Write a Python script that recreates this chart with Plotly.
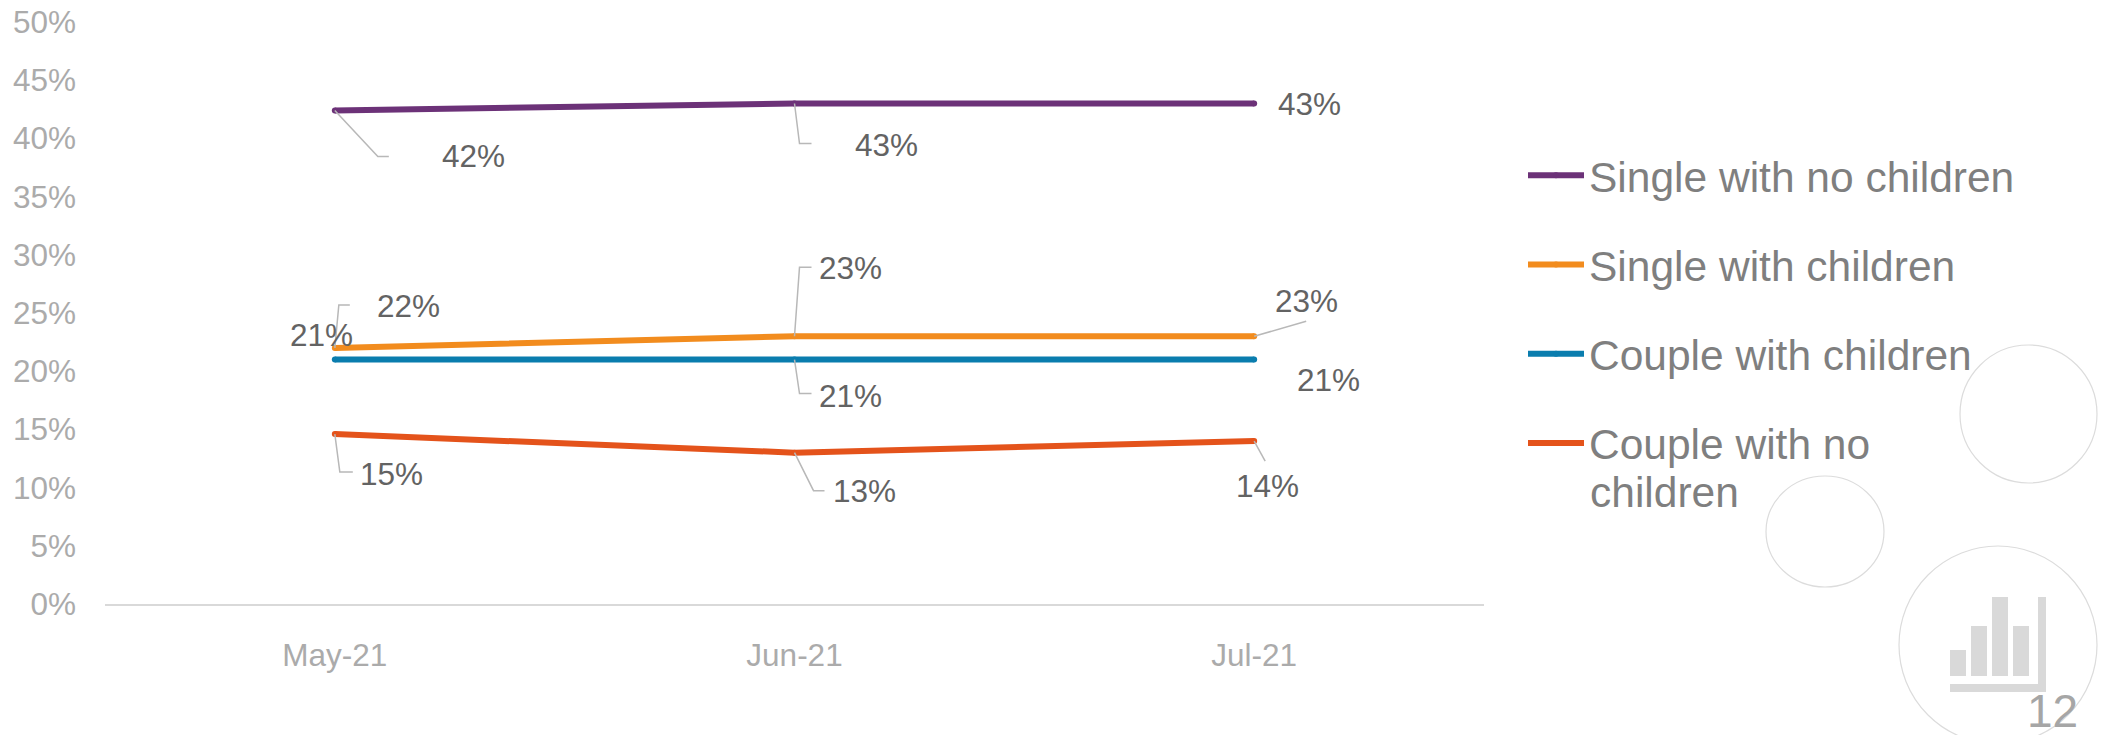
import plotly.graph_objects as go

WIDTH, HEIGHT = 2104, 735
FONT = "Liberation Sans"

# Chart data
months = ["May-21", "Jun-21", "Jul-21"]
series_names = ["Single with no children", "Single with children",
                "Couple with children", "Couple with no"]
wrapped_legend_line = "children"
single_no_children = [42.4, 43, 43]
single_children = [22, 23, 23]
couple_children = [21, 21, 21]
couple_no_children = [14.6, 13, 14]
y_ticks = [0, 5, 10, 15, 20, 25, 30, 35, 40, 45, 50]
page_number = "12"

all_series = [single_no_children, single_children, couple_children, couple_no_children]
colors = ["#6C3278", "#F28C1E", "#0A7DAE", "#E4531B"]

# Label offsets from each point in pixels (right, up) and leader paths, per series and month
label_offsets = [
    [(139, -46), (92, -42), (55, -1)],
    [(74, 42), (56, 68), (52, 35)],
    [(-13, 25), (56, -36), (74, -20)],
    [(57, -40), (70, -38), (13, -45)],
]
leaders = [
    [[(43, -46), (54, -46)], [(5, -40), (17, -40)], None],
    [[(4, 43), (15, 43)], [(5, 69), (17, 69)], [(52, 15)]],
    [None, [(5, -34), (17, -34)], None],
    [[(5, -38), (18, -38)], [(19, -38), (30, -38)], [(11, -20)]],
]


def px(x):
    return x / WIDTH


def py(y):
    return 1 - y / HEIGHT


fig = go.Figure()

for name, values, color in zip(series_names, all_series, colors):
    fig.add_trace(go.Scatter(
        x=list(range(len(months))), y=values, name=name, legendgroup=name,
        mode="lines+markers", line=dict(color=color, width=6),
        marker=dict(color=color, size=6), hoverinfo="skip",
    ))

annotations = []
shapes = []
for values, offsets, paths in zip(all_series, label_offsets, leaders):
    for i, value in enumerate(values):
        dx, dy = offsets[i]
        annotations.append(dict(
            x=i, y=value, xref="x", yref="y", text=f"{value:.0f}%", showarrow=False,
            xshift=dx, yshift=dy, xanchor="center", yanchor="middle",
            font=dict(family=FONT, size=31.5, color="#636363"),
        ))
        if paths[i]:
            path = "M 0 0 " + " ".join(f"L {a} {b}" for a, b in paths[i])
            shapes.append(dict(
                type="path", path=path, xref="x", yref="y",
                xsizemode="pixel", ysizemode="pixel", xanchor=i, yanchor=value,
                line=dict(color="#B8B8B8", width=1.5), layer="above",
            ))

# Decorative circles behind the page number
for x0, x1, y0, y1 in [(1960, 2097, 345, 483), (1766, 1884, 476, 587), (1899, 2097, 546, 744)]:
    shapes.append(dict(
        type="circle", xref="paper", yref="paper",
        x0=px(x0), x1=px(x1), y0=py(y1), y1=py(y0),
        line=dict(color="#DCDCDC", width=1.2), layer="below",
    ))

# Bar-chart pictogram
for x0, x1, y0, y1 in [(1950, 1966, 650, 676), (1971, 1987, 626, 676), (1992, 2008, 597, 676),
                       (2013, 2029, 626, 676), (2038, 2046, 597, 692), (1950, 2046, 684, 692)]:
    shapes.append(dict(
        type="rect", xref="paper", yref="paper",
        x0=px(x0), x1=px(x1), y0=py(y1), y1=py(y0),
        line=dict(width=0), fillcolor="#D9D9D9", layer="below",
    ))

annotations.append(dict(
    x=px(2052), y=py(711), xref="paper", yref="paper", text=page_number, showarrow=False,
    xanchor="center", yanchor="middle", font=dict(family=FONT, size=46, color="#A6A6A6"),
))

# Second line of the last legend entry, so its key stays level with the first line
annotations.append(dict(
    x=px(1588), y=py(492), xref="paper", yref="paper", text=wrapped_legend_line, showarrow=False,
    xanchor="left", yanchor="middle", font=dict(family=FONT, size=42.5, color="#7F7F7F"),
))

fig.update_layout(
    width=WIDTH, height=HEIGHT, autosize=False,
    margin=dict(l=0, r=0, t=0, b=0),
    paper_bgcolor="white", plot_bgcolor="white",
    font=dict(family=FONT),
    showlegend=True,
    xaxis=dict(
        domain=[px(105), px(1484)], range=[-0.5, 2.5], automargin=False,
        tickmode="array", tickvals=list(range(len(months))), ticktext=months,
        showgrid=False, zeroline=False, showline=True, linecolor="#D9D9D9", linewidth=2,
        ticks="", ticklabelstandoff=22,
        tickfont=dict(family=FONT, size=31.5, color="#ABABAB"),
    ),
    yaxis=dict(
        domain=[py(604), py(22)], range=[0, 50], automargin=False,
        tickmode="array", tickvals=y_ticks, ticktext=[f"{t}%" for t in y_ticks],
        showgrid=False, zeroline=False, showline=False, ticks="", ticklabelstandoff=28,
        tickfont=dict(family=FONT, size=31.5, color="#ABABAB"),
    ),
    legend=dict(
        x=px(1523), y=py(141), xanchor="left", yanchor="top",
        itemwidth=56, tracegroupgap=31, traceorder="grouped",
        font=dict(family=FONT, size=42.5, color="#7F7F7F"),
        bgcolor="rgba(0,0,0,0)", borderwidth=0,
    ),
    annotations=annotations,
    shapes=shapes,
)

fig.write_html("out.html", config={"displayModeBar": False})
